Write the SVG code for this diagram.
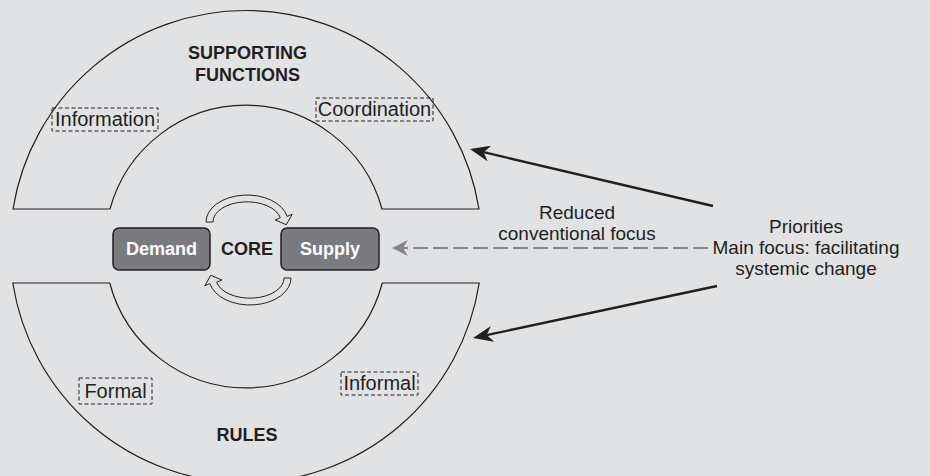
<svg xmlns="http://www.w3.org/2000/svg" xmlns:xlink="http://www.w3.org/1999/xlink" width="930" height="476" viewBox="0 0 930 476">
<style>
.arch{fill:none;stroke:#231f20;stroke-width:1.2}
.lbl{font-family:"Liberation Sans",Arial,sans-serif;font-size:19px;fill:#231f20}
.blbl{font-family:"Liberation Sans",Arial,sans-serif;font-size:20px;fill:#231f20}
.bold{font-family:"Liberation Sans",Arial,sans-serif;font-size:18px;font-weight:bold;fill:#231f20}
.wbold{font-family:"Liberation Sans",Arial,sans-serif;font-size:18px;font-weight:bold;fill:#ffffff}
.dbox{fill:none;stroke:#231f20;stroke-width:1;stroke-dasharray:4 2.5}
.core{fill:#7a7b7e;stroke:#231f20;stroke-width:1.5}
.cyc{fill:#e1e2e4;stroke:#231f20;stroke-width:1}
.blk{stroke:#231f20;stroke-width:2.4;fill:none}
.gry{stroke:#85868a;stroke-width:2.2;fill:none;stroke-dasharray:15 5}
</style>
<defs>
<marker id="ahb" markerUnits="userSpaceOnUse" markerWidth="20" markerHeight="16" viewBox="0 0 20 16" refX="6" refY="8" orient="auto">
<path d="M0,0 L20,8 L0,16 L6,8 Z" fill="#231f20"/>
</marker>
<marker id="ahg" markerUnits="userSpaceOnUse" markerWidth="16" markerHeight="16" viewBox="0 0 16 16" refX="5" refY="8" orient="auto">
<path d="M0,0 L16,8 L0,16 L5,8 Z" fill="#85868a"/>
</marker>
<path id="cycArrow" class="cyc" d="M206,222 A41,27 0 0 1 287.1,216.4 L292.2,214.2 L286.3,224.7 L275.2,220 L280.3,217.8 A34,20 0 0 0 213,222 Z"/>
</defs>
<rect x="0" y="0" width="930" height="476" fill="#e1e2e4"/>

<g id="supporting-functions">
<path class="arch" d="M13,209 A236,236 0 0 1 479,209 L382,209 A141,141 0 0 0 110,209 Z"/>
<text class="bold" x="247.5" y="59" text-anchor="middle">SUPPORTING</text>
<text class="bold" x="247.5" y="81" text-anchor="middle">FUNCTIONS</text>
</g>
<g id="information">
<rect class="dbox" x="52" y="108" width="106" height="23"/>
<text class="blbl" x="105" y="126" text-anchor="middle">Information</text>
</g>
<g id="coordination">
<rect class="dbox" x="316" y="98" width="117" height="23"/>
<text class="blbl" x="374.5" y="116" text-anchor="middle">Coordination</text>
</g>

<g id="rules">
<path class="arch" d="M12.8,283 A236,236 0 0 0 479.2,283 L382.3,283 A141,141 0 0 1 109.7,283 Z"/>
<text class="bold" x="247" y="441" text-anchor="middle">RULES</text>
</g>
<g id="formal">
<rect class="dbox" x="79" y="378" width="73" height="26"/>
<text class="blbl" x="115.5" y="397.5" text-anchor="middle">Formal</text>
</g>
<g id="informal">
<rect class="dbox" x="341" y="372" width="77" height="23"/>
<text class="blbl" x="379.5" y="389.5" text-anchor="middle">Informal</text>
</g>

<g id="core">
<text class="bold" x="247" y="255" text-anchor="middle">CORE</text>
</g>
<g id="demand">
<rect class="core" x="113" y="228" width="97" height="42" rx="6"/>
<text class="wbold" x="161.5" y="255" text-anchor="middle">Demand</text>
</g>
<g id="supply">
<rect class="core" x="281" y="228" width="98" height="42" rx="6"/>
<text class="wbold" x="330" y="255" text-anchor="middle">Supply</text>
</g>

<g id="priorities">
<text class="lbl" x="806" y="233" text-anchor="middle">Priorities</text>
<text class="lbl" x="806" y="254" text-anchor="middle">Main focus: facilitating</text>
<text class="lbl" x="806" y="275" text-anchor="middle">systemic change</text>
</g>

<g id="connectors">
<use xlink:href="#cycArrow"/>
<use xlink:href="#cycArrow" transform="rotate(180 248.5 250)"/>
<line class="blk" x1="713" y1="206" x2="483.6" y2="152.2" marker-end="url(#ahb)"/>
<line class="blk" x1="717" y1="286" x2="486.7" y2="335.1" marker-end="url(#ahb)"/>
<line class="gry" x1="708" y1="248" x2="403" y2="248" marker-end="url(#ahg)"/>
<text class="lbl" x="577" y="219" text-anchor="middle">Reduced</text>
<text class="lbl" x="577" y="240" text-anchor="middle">conventional focus</text>
</g>
</svg>
